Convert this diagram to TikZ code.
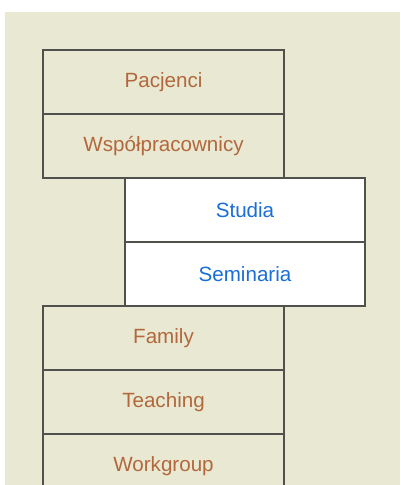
\documentclass[tikz,border=0pt]{standalone}
\usepackage{fontspec}
\setmainfont{Liberation Sans}
\usetikzlibrary{positioning}
\definecolor{paper}{RGB}{233,232,210}
\definecolor{rust}{RGB}{178,104,60}
\definecolor{link}{RGB}{26,110,216}
\definecolor{rule}{RGB}{80,80,76}
\tikzset{
  entry/.style={draw=rule,line width=1.6pt,fill=#1,rectangle,outer sep=0pt,
    inner sep=0pt,minimum width=241pt,minimum height=64pt,
    font=\fontsize{20.6}{24}\selectfont,text=rust},
  entry/.default=paper,
  picked/.style={entry=white,text=link,minimum width=240pt},
}

\begin{document}
\begin{tikzpicture}[x=1pt,y=-1pt]
  \useasboundingbox (0,0) rectangle (400,485);
  \clip (0,0) rectangle (400,485);
  \fill[white] (0,0) rectangle (400,485);
  \fill[paper] (5,12) rectangle (400,485);
  % left column, top
  \node[entry,anchor=north west] (pac) at (43,50) {Pacjenci};
  \node[entry,below=0pt of pac] (wsp) {Współpracownicy};
  % shifted selection
  \node[picked,anchor=north west] (stu) at ([xshift=82pt]wsp.south west) {Studia};
  \node[picked,below=0pt of stu] (sem) {Seminaria};
  % left column, bottom
  \node[entry,anchor=north west] (fam) at ([xshift=-82pt]sem.south west) {Family};
  \node[entry,below=0pt of fam] (tea) {Teaching};
  \node[entry,below=0pt of tea] (wrk) {Workgroup};
\end{tikzpicture}
\end{document}
